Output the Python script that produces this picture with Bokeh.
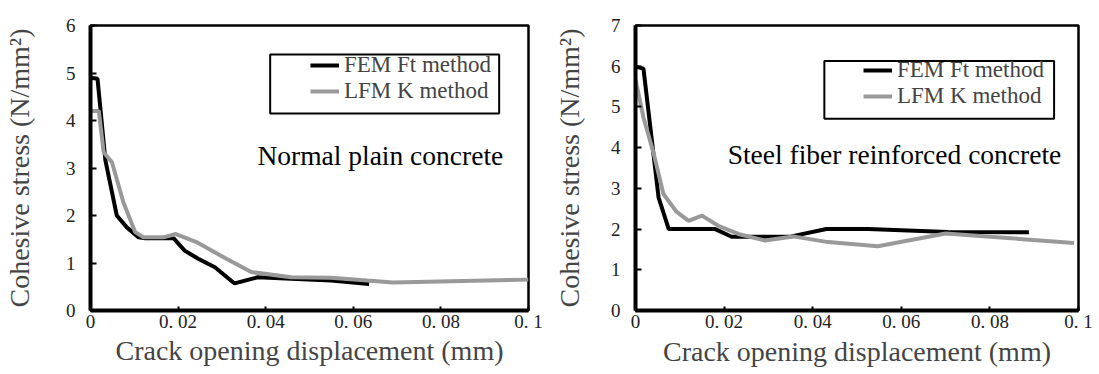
from bokeh.plotting import figure
from bokeh.layouts import row
from bokeh.models import Range1d, FixedTicker, Legend, LegendItem, Label, BoxAnnotation
from bokeh.embed import file_html
from bokeh.resources import INLINE

# ---------------- data ----------------
x_ticks = [0, 0.02, 0.04, 0.06, 0.08, 0.1]
x_tick_labels = ["0", "0. 02", "0. 04", "0. 06", "0. 08", "0. 1"]
y_ticks_left = [0, 1, 2, 3, 4, 5, 6]
y_ticks_right = [0, 1, 2, 3, 4, 5, 6, 7]

# Normal plain concrete
npc_fem_x = [0, 0.0016, 0.0034, 0.0045, 0.006, 0.0083, 0.011, 0.0125, 0.019, 0.0215,
             0.0246, 0.0284, 0.0329, 0.0382, 0.0458, 0.0549, 0.0636]
npc_fem_y = [4.9, 4.88, 3.16, 2.67, 2.0, 1.75, 1.54, 1.52, 1.52, 1.26,
             1.09, 0.91, 0.57, 0.70, 0.67, 0.63, 0.56]
npc_lfm_x = [0, 0.0019, 0.003, 0.0049, 0.0075, 0.0102, 0.0121, 0.0166, 0.0195, 0.0242,
             0.0306, 0.0367, 0.0458, 0.0549, 0.0632, 0.069, 0.1]
npc_lfm_y = [4.2, 4.2, 3.33, 3.12, 2.28, 1.65, 1.54, 1.54, 1.61, 1.44,
             1.11, 0.81, 0.70, 0.69, 0.63, 0.59, 0.65]

# Steel fiber reinforced concrete
sfrc_fem_x = [0, 0.0018, 0.0052, 0.0075, 0.018, 0.0217, 0.0285, 0.0352, 0.0431, 0.0525,
              0.0705, 0.0888]
sfrc_fem_y = [5.99, 5.94, 2.78, 2.0, 2.0, 1.81, 1.81, 1.82, 2.0, 2.0, 1.93, 1.92]
sfrc_lfm_x = [0, 0.0018, 0.0041, 0.0063, 0.0093, 0.012, 0.015, 0.0187, 0.0232, 0.0292,
              0.0356, 0.0435, 0.0547, 0.070, 0.099]
sfrc_lfm_y = [5.67, 4.74, 3.86, 2.86, 2.42, 2.2, 2.33, 2.08, 1.88, 1.72,
              1.82, 1.68, 1.58, 1.89, 1.66]

series_names = ["FEM Ft method", "LFM K method"]
panel_titles = ["Normal plain concrete", "Steel fiber reinforced concrete"]
x_title = "Crack opening displacement (mm)"
y_title = "Cohesive stress (N/mm\u00b2)"

FONT = "Liberation Serif"
BLACK = "#000000"
GRAY = "#999999"


def make_panel(width, height, borders, ymax, yticks, fem, lfm, title_xy, box, leg_loc,
               leg_h, leg_spacing, xstand, xals, yals):
    bl, br, bt, bb = borders
    p = figure(width=width, height=height, output_backend="svg", toolbar_location=None,
               x_range=Range1d(0, 0.1), y_range=Range1d(0, ymax),
               min_border_left=bl, min_border_right=br, min_border_top=bt, min_border_bottom=bb)
    p.background_fill_color = "white"
    p.border_fill_color = "white"
    p.outline_line_color = "black"
    p.outline_line_width = 2.5
    p.xgrid.visible = False
    p.ygrid.visible = False

    r1 = p.line(fem[0], fem[1], line_color=BLACK, line_width=4)
    r2 = p.line(lfm[0], lfm[1], line_color=GRAY, line_width=4)

    xa = p.xaxis[0]
    xa.ticker = FixedTicker(ticks=x_ticks)
    xa.major_label_overrides = {t: l for t, l in zip(x_ticks, x_tick_labels)}
    xa.axis_line_width = 4
    xa.major_tick_in = 4
    xa.major_tick_out = 0
    xa.major_tick_line_width = 2
    xa.minor_tick_line_color = None
    xa.major_label_standoff = xstand
    xa.major_label_text_font = FONT
    xa.major_label_text_font_size = "19px"
    xa.major_label_text_color = "#222222"
    xa.axis_label = x_title
    xa.axis_label_text_font = FONT
    xa.axis_label_text_font_size = "28px"
    xa.axis_label_text_font_style = "normal"
    xa.axis_label_standoff = xals

    ya = p.yaxis[0]
    ya.ticker = FixedTicker(ticks=yticks)
    ya.axis_line_width = 4
    ya.major_tick_in = 6
    ya.major_tick_out = 0
    ya.major_tick_line_width = 2
    ya.minor_tick_line_color = None
    ya.major_label_standoff = 15
    ya.major_label_text_font = FONT
    ya.major_label_text_font_size = "19px"
    ya.major_label_text_color = "#222222"
    ya.axis_label = y_title
    ya.axis_label_text_font = FONT
    ya.axis_label_text_font_size = "28px"
    ya.axis_label_text_font_style = "normal"
    ya.axis_label_standoff = yals

    p.add_layout(Label(x=title_xy[0], y=title_xy[1], text=title_xy[2], text_font=FONT,
                       text_font_size="27.5px", text_baseline="middle", text_align="left",
                       text_color="black"))

    p.add_layout(BoxAnnotation(left=box[0], right=box[1], bottom=box[2], top=box[3],
                               fill_alpha=0, line_color="black", line_width=2, line_alpha=1))

    legend = Legend(items=[LegendItem(label=series_names[0], renderers=[r1]),
                           LegendItem(label=series_names[1], renderers=[r2])],
                    location=leg_loc, padding=0, margin=0, spacing=leg_spacing,
                    glyph_width=29, glyph_height=leg_h, label_height=leg_h, label_standoff=5,
                    label_text_font=FONT, label_text_font_size="23px",
                    border_line_color=None, background_fill_alpha=0)
    p.add_layout(legend)
    return p


p1 = make_panel(550, 373, (88, 22, 25, 63), 6, y_ticks_left,
                (npc_fem_x, npc_fem_y), (npc_lfm_x, npc_lfm_y),
                (0.0381, 3.26, panel_titles[0]),
                (0.04102, 0.0933, 4.147, 5.389), (220, 206), 26, 0, 0, 0, 28)
p2 = make_panel(548, 373, (84, 20, 23, 59), 7, y_ticks_right,
                (sfrc_fem_x, sfrc_fem_y), (sfrc_lfm_x, sfrc_lfm_y),
                (0.0208, 3.82, panel_titles[1]),
                (0.04263, 0.09449, 4.712, 6.13), (228, 201), 22, 0, 0, 1, 23)

layout = row(p1, p2)
open("out.html", "w").write(file_html(layout, INLINE))
